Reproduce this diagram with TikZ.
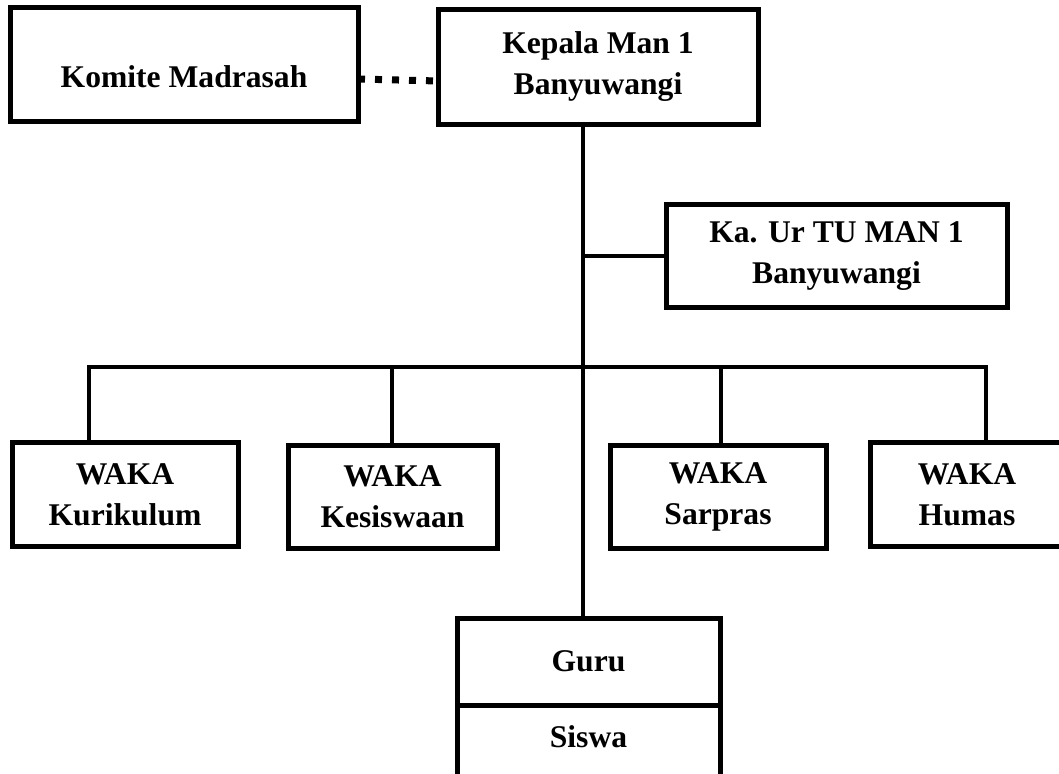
\documentclass[tikz,border=0pt]{standalone}
\usepackage{fontspec}
\setmainfont{Liberation Serif}
\usepackage{tikz}

\begin{document}
\begin{tikzpicture}[x=0.5pt, y=-0.5pt,
		box_style/.style={rectangle,draw=black,line width=2.5pt,fill=white,align=center,inner sep=0pt,outer sep=0pt,font=\bfseries\fontsize{15.8}{20.5}\selectfont},
		edge_style/.style={draw=black,line width=2pt},
		dot_style/.style={draw=black,line width=3.5pt,dash pattern=on 3.5pt off 5pt}]

		\useasboundingbox (0,0) rectangle (1059,774);

		\node[box_style,minimum width=174pt,minimum height=57pt,text height=23pt] (komite) at (184,65) {Komite Madrasah};
		\node[box_style,minimum width=160pt,minimum height=57.5pt] (kepala) at (598,67) {Kepala Man 1\\Banyuwangi};
		\node[box_style,minimum width=170.5pt,minimum height=51.5pt] (katu) at (836.5,256.5) {Ka. Ur TU MAN 1\\Banyuwangi};
		\node[box_style,minimum width=113pt,minimum height=51.5pt] (kurikulum) at (125,494.5) {WAKA\\Kurikulum};
		\node[box_style,minimum width=104.5pt,minimum height=51pt] (kesiswaan) at (392.5,497) {WAKA\\Kesiswaan};
		\node[box_style,minimum width=108pt,minimum height=51pt] (sarpras) at (718,497) {WAKA\\Sarpras};
		\node[box_style,minimum width=97pt,minimum height=51.5pt] (humas) at (967,494.5) {WAKA\\Humas};
		\node[box_style,minimum width=131.5pt,minimum height=43.5pt] (guru) at (588.5,661.5) {Guru};
		\node[box_style,minimum width=131.5pt,minimum height=45pt,text depth=13pt,anchor=north] (siswa) at (guru.south) {Siswa};

		\coordinate (trunk) at (583,367);
		\coordinate (d1) at (89,367);
		\coordinate (d2) at (392,367);
		\coordinate (d3) at (721,367);
		\coordinate (d4) at (986,367);

		\draw[dot_style] ([yshift=-7pt]komite.east) -- ([yshift=-7pt]kepala.west);
		\draw[edge_style] (kepala.south -| trunk) -- (guru.north -| trunk);
		\draw[edge_style] (katu.west -| trunk) -- (katu.west);
		\draw[edge_style] (kurikulum.north -| d1) |- (d4) -- (humas.north -| d4);
		\draw[edge_style] (d2) -- (kesiswaan.north -| d2);
		\draw[edge_style] (d3) -- (sarpras.north -| d3);
\end{tikzpicture}
\end{document}
